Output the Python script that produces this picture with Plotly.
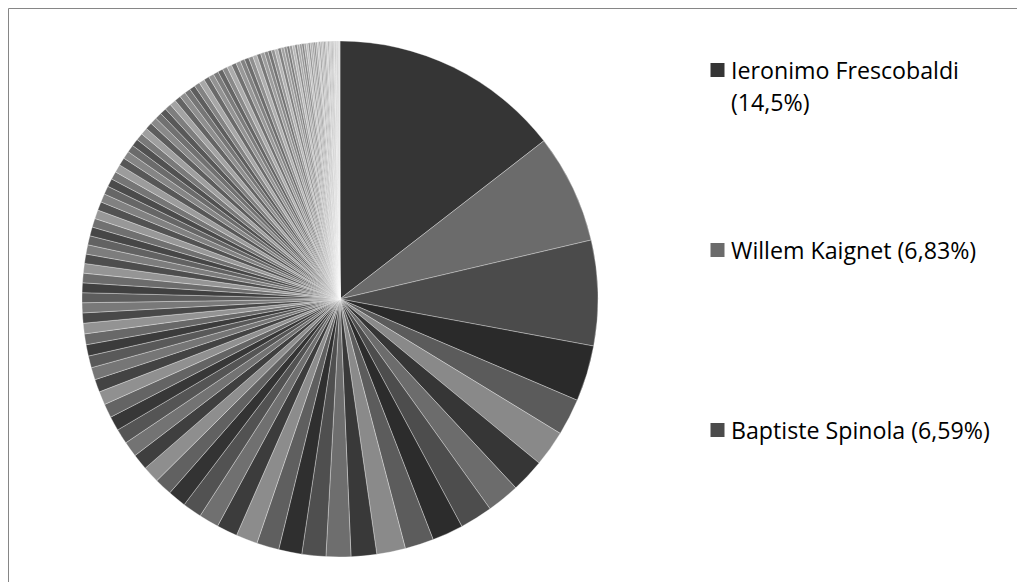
import plotly.graph_objects as go

OFF = 8  # the page adds an 8px body margin; compensate so positions match
W, H = 1025 - OFF, 582 - OFF

# ---- data (percentages) ----
named_labels = ["Ieronimo Frescobaldi", "Willem Kaignet", "Baptiste Spinola"]

values = [
    14.5, 6.83, 6.59, 3.5, 2.3, 2.25, 2.1, 2.05, 2.05, 1.95, 1.8, 1.8, 1.6,
    1.55, 1.5, 1.45, 1.4, 1.35, 1.3, 1.25, 1.2, 1.15, 1.1, 1.05, 1.0, 0.97,
    0.94, 0.9, 0.87, 0.84, 0.8, 0.77, 0.74, 0.71, 0.68, 0.66, 0.64, 0.63,
    0.62, 0.61, 0.6, 0.6, 0.59, 0.58, 0.57, 0.56, 0.55, 0.55, 0.54, 0.53,
    0.52, 0.51, 0.5, 0.5, 0.49, 0.48, 0.47, 0.46, 0.45,
    0.44, 0.43, 0.43, 0.42, 0.41, 0.4, 0.39, 0.39, 0.38, 0.37, 0.36, 0.35,
    0.35, 0.34, 0.33, 0.32, 0.32, 0.31, 0.3, 0.3, 0.29, 0.28, 0.28,
    0.27, 0.26, 0.25, 0.24, 0.23, 0.22, 0.21, 0.2, 0.2, 0.19, 0.18, 0.17,
    0.17, 0.16, 0.15,
    0.15, 0.14, 0.14, 0.13, 0.13, 0.12, 0.12, 0.11, 0.11, 0.11, 0.1, 0.1,
    0.1, 0.09, 0.09, 0.09, 0.08, 0.08, 0.08, 0.07, 0.07, 0.07, 0.06, 0.06,
    0.05, 0.06, 0.05, 0.05, 0.05,
]

labels = named_labels + [f"Sponsor {i + 1}" for i in range(len(named_labels), len(values))]

# ---- styling: grey monochrome palette, lighter towards the end ----
base_cycle = [0x35, 0x6B, 0x4B, 0x2A, 0x5A, 0x88]
n = len(values)
colors = []
for i in range(n):
    b = base_cycle[i % 6]
    t = 0.6 * (i / (n - 1)) ** 1.5
    v = int(round(b + (255 - b) * t))
    colors.append(f"rgb({v},{v},{v})")

cx, cy, r = 340 - OFF, 299 - OFF, 258
fig = go.Figure(
    go.Pie(
        labels=labels,
        values=values,
        sort=False,
        direction="clockwise",
        rotation=0,
        textinfo="none",
        showlegend=False,
        marker=dict(colors=colors, line=dict(color="rgba(255,255,255,0.55)", width=0.6)),
        domain=dict(x=[(cx - r) / W, (cx + r) / W], y=[(H - cy - r) / H, (H - cy + r) / H]),
        hovertemplate="%{label}: %{percent}<extra></extra>",
    )
)


def px(x):
    return (x - OFF) / W


def py(y):
    return 1 - (y - OFF) / H


font = dict(family="Open Sans, Liberation Sans, sans-serif", size=23.2, color="#000000")
legend_rows = [
    # (index, lines, y centres of lines)
    (0, [named_labels[0], f"({values[0]:g}%)".replace(".", ",")], [70, 101.5]),
    (1, [f"{named_labels[1]} ({values[1]:g}%)".replace(".", ",")], [250]),
    (2, [f"{named_labels[2]} ({values[2]:g}%)".replace(".", ",")], [430]),
]
shapes = []
annotations = []
for idx, lines, ys in legend_rows:
    yc = ys[0]
    shapes.append(dict(type="rect", xref="paper", yref="paper",
                       x0=px(710.5), x1=px(724.5), y0=py(yc - 7), y1=py(yc + 7),
                       fillcolor=colors[idx], line=dict(width=0)))
    for line, yl in zip(lines, ys):
        annotations.append(dict(text=line, xref="paper", yref="paper", x=px(729), y=py(yl),
                                xanchor="left", yanchor="middle", showarrow=False, font=font))

# chart-area border: only the top and left edges are inside the picture
border = dict(color="#868686", width=1)
shapes.append(dict(type="line", xref="paper", yref="paper",
                   x0=px(8.5), x1=1, y0=py(8.5), y1=py(8.5), line=border))
shapes.append(dict(type="line", xref="paper", yref="paper",
                   x0=px(8.5), x1=px(8.5), y0=py(8.5), y1=0, line=border))

fig.update_layout(
    width=W, height=H,
    margin=dict(l=0, r=0, t=0, b=0),
    paper_bgcolor="white",
    plot_bgcolor="white",
    shapes=shapes,
    annotations=annotations,
)
fig.write_html("out.html")
